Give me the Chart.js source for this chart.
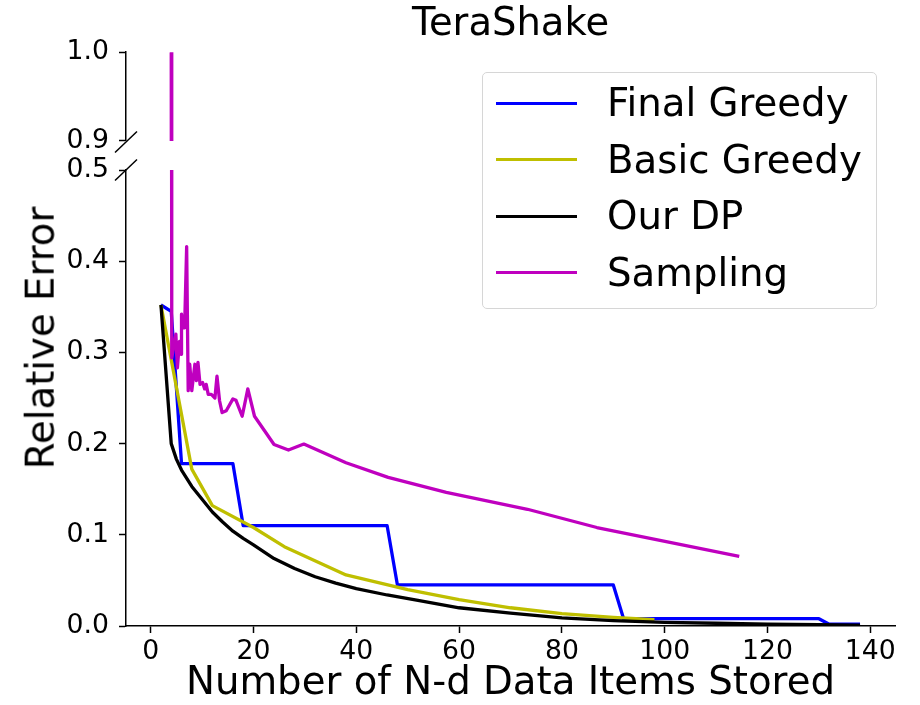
<!DOCTYPE html>
<html>
<head>
<meta charset="utf-8">
<title>TeraShake</title>
<script src="https://cdn.jsdelivr.net/npm/chart.js@4.4.1/dist/chart.umd.min.js"></script>
<style>
  html, body { margin: 0; padding: 0; background: #fff; }
  #figure { position: relative; width: 920px; height: 705px; overflow: hidden; font-family: 'DejaVu Sans', sans-serif; color: #000; }
  canvas { position: absolute; left: 0; }
  #topChart { top: 0; }
  #bottomChart { top: 144px; }
  #yLabel {
    position: absolute; left: 41px; top: 338px;
    transform: translate(-50%, -50%) rotate(-90deg);
    font-size: 38.7px; line-height: 1; white-space: nowrap;
  }
  #legend {
    position: absolute; left: 482px; top: 72px; width: 395px; height: 237px;
    box-sizing: border-box; padding-top: 2px;
    border: 1px solid #d6d6d6; border-radius: 5px; background: rgba(255, 255, 255, 0.8);
  }
  .legend-row { position: relative; height: 56.5px; }
  .legend-swatch { position: absolute; left: 13px; top: 26.6px; width: 81px; height: 3.3px; }
  .legend-text { position: absolute; left: 124px; top: 0; line-height: 56.5px; font-size: 38.7px; white-space: nowrap; }
</style>
</head>
<body>
<div id="figure">
  <canvas id="topChart" width="920" height="167"></canvas>
  <canvas id="bottomChart" width="920" height="561"></canvas>
  <div id="yLabel">Relative Error</div>
  <div id="legend"></div>
</div>
<script>
// axes
const xTicks = [0, 20, 40, 60, 80, 100, 120, 140];
const lowerYTicks = [0, 0.1, 0.2, 0.3, 0.4, 0.5];
const upperYTicks = [0.9, 1.0];

// series
const seriesNames = ['Final Greedy', 'Basic Greedy', 'Our DP', 'Sampling'];
const seriesColors = ['#0000ff', '#bfbf00', '#000000', '#bf00bf'];

const finalGreedyX = [2, 4, 6, 16, 18, 46, 48, 90, 92, 130, 132, 138];
const finalGreedyY = [0.352, 0.345, 0.178, 0.178, 0.110, 0.110, 0.045, 0.045, 0.008, 0.008, 0.002, 0.002];

const basicGreedyX = [2, 8, 12, 20, 26, 38, 50, 60, 70, 80, 90, 98];
const basicGreedyY = [0.352, 0.172, 0.132, 0.108, 0.087, 0.056, 0.040, 0.029, 0.020, 0.0135, 0.0095, 0.007];

const ourDpX = [2, 4, 5, 6, 8, 10, 12, 14, 16, 18, 20, 24, 28, 32, 36, 40, 46, 52, 60, 70, 80, 90, 100, 110, 120, 130, 138];
const ourDpY = [0.352, 0.200, 0.183, 0.171, 0.153, 0.139, 0.125, 0.114, 0.104, 0.096, 0.089, 0.074, 0.063, 0.054, 0.047, 0.041, 0.034, 0.028, 0.020, 0.014, 0.009, 0.006, 0.004, 0.003, 0.002, 0.0015, 0.001];

const samplingX = [4, 4.1, 4.9, 5.2, 5.6, 5.9, 6, 6.3, 6.6, 7, 7.3, 7.6, 8, 8.6, 8.9, 9.2, 9.6, 10.1, 10.5, 10.8, 11.2, 11.8, 12.5, 12.9, 13.4, 13.9, 14.7, 16, 16.6, 17.8, 18.9, 20.2, 24, 26.8, 29.8, 38, 46.2, 57.5, 73.3, 86.8, 114.5];
const samplingY = [1.0, 0.294, 0.320, 0.283, 0.312, 0.298, 0.342, 0.327, 0.327, 0.416, 0.258, 0.287, 0.258, 0.287, 0.269, 0.289, 0.265, 0.267, 0.260, 0.265, 0.254, 0.254, 0.250, 0.274, 0.247, 0.234, 0.236, 0.249, 0.2475, 0.230, 0.260, 0.230, 0.199, 0.193, 0.1995, 0.179, 0.163, 0.1466, 0.128, 0.108, 0.0764];

const xMin = -4.8;
const xMax = 144.8;

(() => {
  Chart.defaults.font.family = "'DejaVu Sans', sans-serif";
  Chart.defaults.color = '#000';

  const toPoints = (xs, ys) => xs.map((x, i) => ({ x, y: ys[i] }));
  const seriesData = [
    toPoints(finalGreedyX, finalGreedyY),
    toPoints(basicGreedyX, basicGreedyY),
    toPoints(ourDpX, ourDpY),
    toPoints(samplingX, samplingY)
  ];

  const makeDatasets = () => seriesNames.map((name, i) => ({
    label: name,
    data: seriesData[i],
    borderColor: seriesColors[i],
    backgroundColor: seriesColors[i],
    borderWidth: 3.3,
    borderJoinStyle: 'round',
    pointRadius: 0,
    tension: 0,
    fill: false,
    order: seriesNames.length - i
  }));

  const axisLine = {
    grid: { drawOnChartArea: false, drawTicks: true, tickLength: 7, tickWidth: 1.5, tickColor: '#000' },
    border: { display: true, color: '#000', width: 1.5 }
  };

  const yScale = (min, max, tickValues) => ({
    type: 'linear',
    min,
    max,
    afterFit: (scale) => { scale.width = 126; },
    afterBuildTicks: (scale) => { scale.ticks = tickValues.map((value) => ({ value })); },
    ...axisLine,
    ticks: { color: '#000', padding: 10, font: { size: 26.7 }, callback: (v) => Number(v).toFixed(1) }
  });

  // little slashes on the left spine where the axis is cut
  const breakMark = (edge) => ({
    id: 'breakMark',
    afterDraw(chart) {
      const { ctx, chartArea } = chart;
      const y = edge === 'bottom' ? chartArea.bottom + 1 : chartArea.top;
      ctx.save();
      ctx.strokeStyle = '#000';
      ctx.lineWidth = 1.5;
      ctx.beginPath();
      ctx.moveTo(chartArea.left - 11, y + 10.5);
      ctx.lineTo(chartArea.left + 11, y - 10.5);
      ctx.stroke();
      ctx.restore();
    }
  });

  new Chart(document.getElementById('topChart'), {
    type: 'line',
    data: { datasets: makeDatasets() },
    options: {
      responsive: false,
      animation: false,
      devicePixelRatio: 1,
      events: [],
      layout: { padding: { top: 0, right: 25, bottom: 0, left: 0 } },
      scales: {
        x: { type: 'linear', min: xMin, max: xMax, display: false },
        y: yScale(0.9, 1.0, upperYTicks)
      },
      plugins: {
        legend: { display: false },
        tooltip: { enabled: false },
        title: {
          display: true,
          text: 'TeraShake',
          fullSize: false,
          color: '#000',
          font: { size: 38.5, weight: 'normal' },
          padding: { top: 2, bottom: 4 }
        }
      }
    },
    plugins: [breakMark('bottom')]
  });

  new Chart(document.getElementById('bottomChart'), {
    type: 'line',
    data: { datasets: makeDatasets() },
    options: {
      responsive: false,
      animation: false,
      devicePixelRatio: 1,
      events: [],
      layout: { padding: { top: 0, right: 25, bottom: 2, left: 0 } },
      scales: {
        x: {
          type: 'linear',
          min: xMin,
          max: xMax,
          afterFit: (scale) => { scale.height = 77; },
          afterBuildTicks: (scale) => { scale.ticks = xTicks.map((value) => ({ value })); },
          ...axisLine,
          ticks: {
            color: '#000',
            padding: 6,
            maxRotation: 0,
            autoSkip: false,
            font: { size: 26.7, lineHeight: 1 },
            callback: (v) => String(v)
          },
          title: {
            display: true,
            text: 'Number of N-d Data Items Stored',
            color: '#000',
            font: { size: 38.7, lineHeight: 1 },
            padding: 0
          }
        },
        y: yScale(0, 0.5, lowerYTicks)
      },
      plugins: {
        legend: { display: false },
        tooltip: { enabled: false }
      }
    },
    plugins: [breakMark('top')]
  });

  const legendEl = document.getElementById('legend');
  seriesNames.forEach((name, i) => {
    const row = document.createElement('div');
    row.className = 'legend-row';
    const swatch = document.createElement('div');
    swatch.className = 'legend-swatch';
    swatch.style.background = seriesColors[i];
    const text = document.createElement('div');
    text.className = 'legend-text';
    text.textContent = name;
    row.appendChild(swatch);
    row.appendChild(text);
    legendEl.appendChild(row);
  });
})();
</script>
</body>
</html>
